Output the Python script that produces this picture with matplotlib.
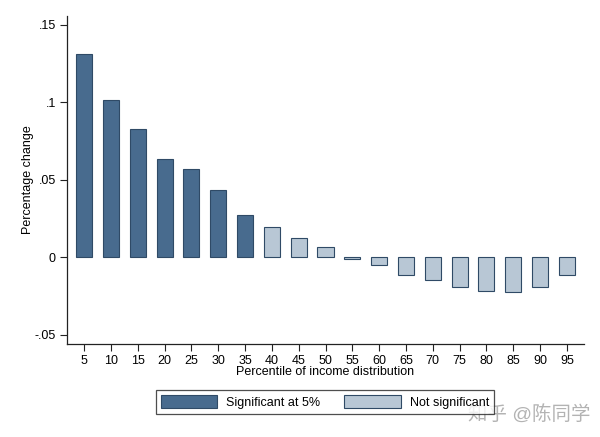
import matplotlib
matplotlib.use('Agg')
import matplotlib.pyplot as plt
from matplotlib.patches import Patch

plt.rcParams['font.family'] = ['Liberation Sans', 'Noto Sans CJK SC', 'DejaVu Sans']

## data
percentiles = [5, 10, 15, 20, 25, 30, 35, 40, 45, 50, 55, 60, 65, 70, 75, 80, 85, 90, 95]
pct_change = [0.1308, 0.1011, 0.0824, 0.0634, 0.0568, 0.0434, 0.0273, 0.0192, 0.0123,
              0.0066, -0.0010, -0.0050, -0.0118, -0.0146, -0.0192, -0.0221, -0.0228, -0.0194, -0.0116]
significant = [True]*7 + [False]*12
yticks = [-0.05, 0, 0.05, 0.1, 0.15]
yticklabels = ['-.05', '0', '.05', '.1', '.15']

dark = '#486b8e'
light = '#b8c7d5'
edge = '#2f4a66'
fs = 9

fig = plt.figure(figsize=(6, 4.37), dpi=100)
ax = fig.add_axes([0.1117, 0.2128, 0.8616, 0.7506])

colors = [dark if s else light for s in significant]
ax.bar(percentiles, pct_change, width=3, color=colors, edgecolor=edge, linewidth=0.8)

ax.set_xlim(1.8, 98.2)
ax.set_ylim(-0.0561, 0.1555)
ax.set_xticks(percentiles)
ax.set_xticklabels([str(p) for p in percentiles], fontsize=fs)
ax.set_yticks(yticks)
ax.set_yticklabels(yticklabels, fontsize=fs)
ax.tick_params(axis='both', direction='out', length=5, width=0.8, color='#222222', pad=3)
ax.spines['top'].set_visible(False)
ax.spines['right'].set_visible(False)
for s in ['left', 'bottom']:
    ax.spines[s].set_linewidth(0.9)
    ax.spines[s].set_color('#222222')

ax.set_ylabel('Percentage change', fontsize=fs, labelpad=0.5)
ax.set_xlabel('Percentile of income distribution', fontsize=fs, labelpad=-1)

handles = [Patch(facecolor=dark, edgecolor=edge, linewidth=0.8),
           Patch(facecolor=light, edgecolor=edge, linewidth=0.8)]
leg = fig.legend(handles, ['Significant at 5%', 'Not significant'], ncol=2, loc='center',
                 bbox_to_anchor=(0.5417, 0.080), frameon=True, fancybox=False,
                 edgecolor='#222222', fontsize=fs, handlelength=4.5, handleheight=1.15,
                 handletextpad=0.72, columnspacing=1.9, borderpad=0.4)
leg.get_frame().set_linewidth(0.9)

## watermark
fig.text(0.882, 0.053, '知乎 @陈同学', fontsize=14, color='#9a9a9a', alpha=0.75,
         ha='center', va='center')

fig.savefig('out.png', dpi=100, facecolor='white')
